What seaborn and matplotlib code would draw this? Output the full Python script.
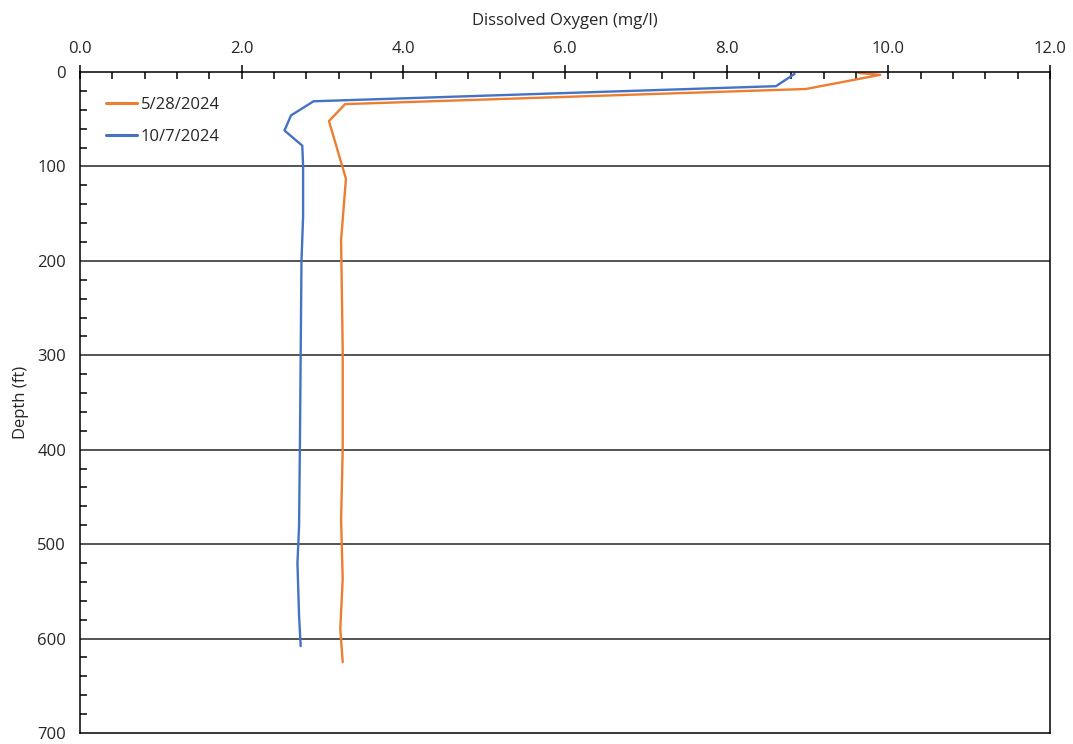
import matplotlib
matplotlib.use("Agg")
import matplotlib.pyplot as plt
from matplotlib.ticker import MultipleLocator, FormatStrFormatter
import seaborn as sns
import pandas as pd

# --- data -------------------------------------------------------------
may_depth = [1, 3, 18, 34, 52, 113, 178, 294, 400, 474, 537, 590, 625]
may_do = [9.63, 9.90, 8.98, 3.28, 3.08, 3.29, 3.23, 3.25, 3.25, 3.23, 3.25, 3.22, 3.25]

oct_depth = [2, 15, 31, 46, 62, 78, 100, 153, 200, 300, 400, 481, 520, 576, 608]
oct_do = [8.84, 8.61, 2.89, 2.61, 2.53, 2.75, 2.76, 2.76, 2.74, 2.73, 2.72, 2.71, 2.69, 2.71, 2.73]

series_names = ["5/28/2024", "10/7/2024"]
colors = ["#ED7D31", "#4472C4"]

df = pd.concat([
    pd.DataFrame({"DO": may_do, "Depth": may_depth, "Date": series_names[0]}),
    pd.DataFrame({"DO": oct_do, "Depth": oct_depth, "Date": series_names[1]}),
], ignore_index=True)

sns.set_style("white")
plt.rcParams["font.family"] = ["Open Sans", "DejaVu Sans"]

fig = plt.figure(figsize=(10.73, 7.44), dpi=100)
ax = fig.add_axes([80 / 1073, 1 - 733 / 744, 970 / 1073, 661 / 744])

sns.lineplot(data=df, x="DO", y="Depth", hue="Date", hue_order=series_names,
             palette=colors, sort=False, estimator=None, linewidth=1.7, ax=ax)

ax.set_xlim(0, 12)
ax.set_ylim(700, 0)

# gridlines
for d in range(100, 700, 100):
    ax.axhline(d, color="#262626", lw=1.1, zorder=0)

ax.xaxis.tick_top()
ax.xaxis.set_label_position("top")
ax.xaxis.set_major_locator(MultipleLocator(2))
ax.xaxis.set_minor_locator(MultipleLocator(0.4))
ax.xaxis.set_major_formatter(FormatStrFormatter("%.1f"))
ax.yaxis.set_major_locator(MultipleLocator(100))
ax.yaxis.set_minor_locator(MultipleLocator(20))

ax.tick_params(axis="x", which="major", direction="inout", length=10, width=1.1,
               labelsize=12, pad=5.5, color="black")
ax.tick_params(axis="x", which="minor", direction="in", length=5, width=1.1, color="black",
               top=True, bottom=False)
ax.tick_params(axis="y", which="major", direction="out", length=6, width=1.1,
               labelsize=12, pad=4, color="black")
ax.tick_params(axis="y", which="minor", direction="in", length=5, width=1.1, color="black",
               left=True)

ax.set_xlabel("Dissolved Oxygen (mg/l)", fontsize=12, labelpad=11.5)
ax.set_ylabel("Depth (ft)", fontsize=12, labelpad=6)

for s in ax.spines.values():
    s.set_color("black")
    s.set_linewidth(1.1)

leg = ax.legend(loc="upper left", bbox_to_anchor=(0.011, 0.985), frameon=False,
                fontsize=12, handlelength=1.9, handletextpad=0.2, labelspacing=0.95)
for h in leg.get_lines():
    h.set_linewidth(2.2)

fig.savefig("out.png", dpi=100)
